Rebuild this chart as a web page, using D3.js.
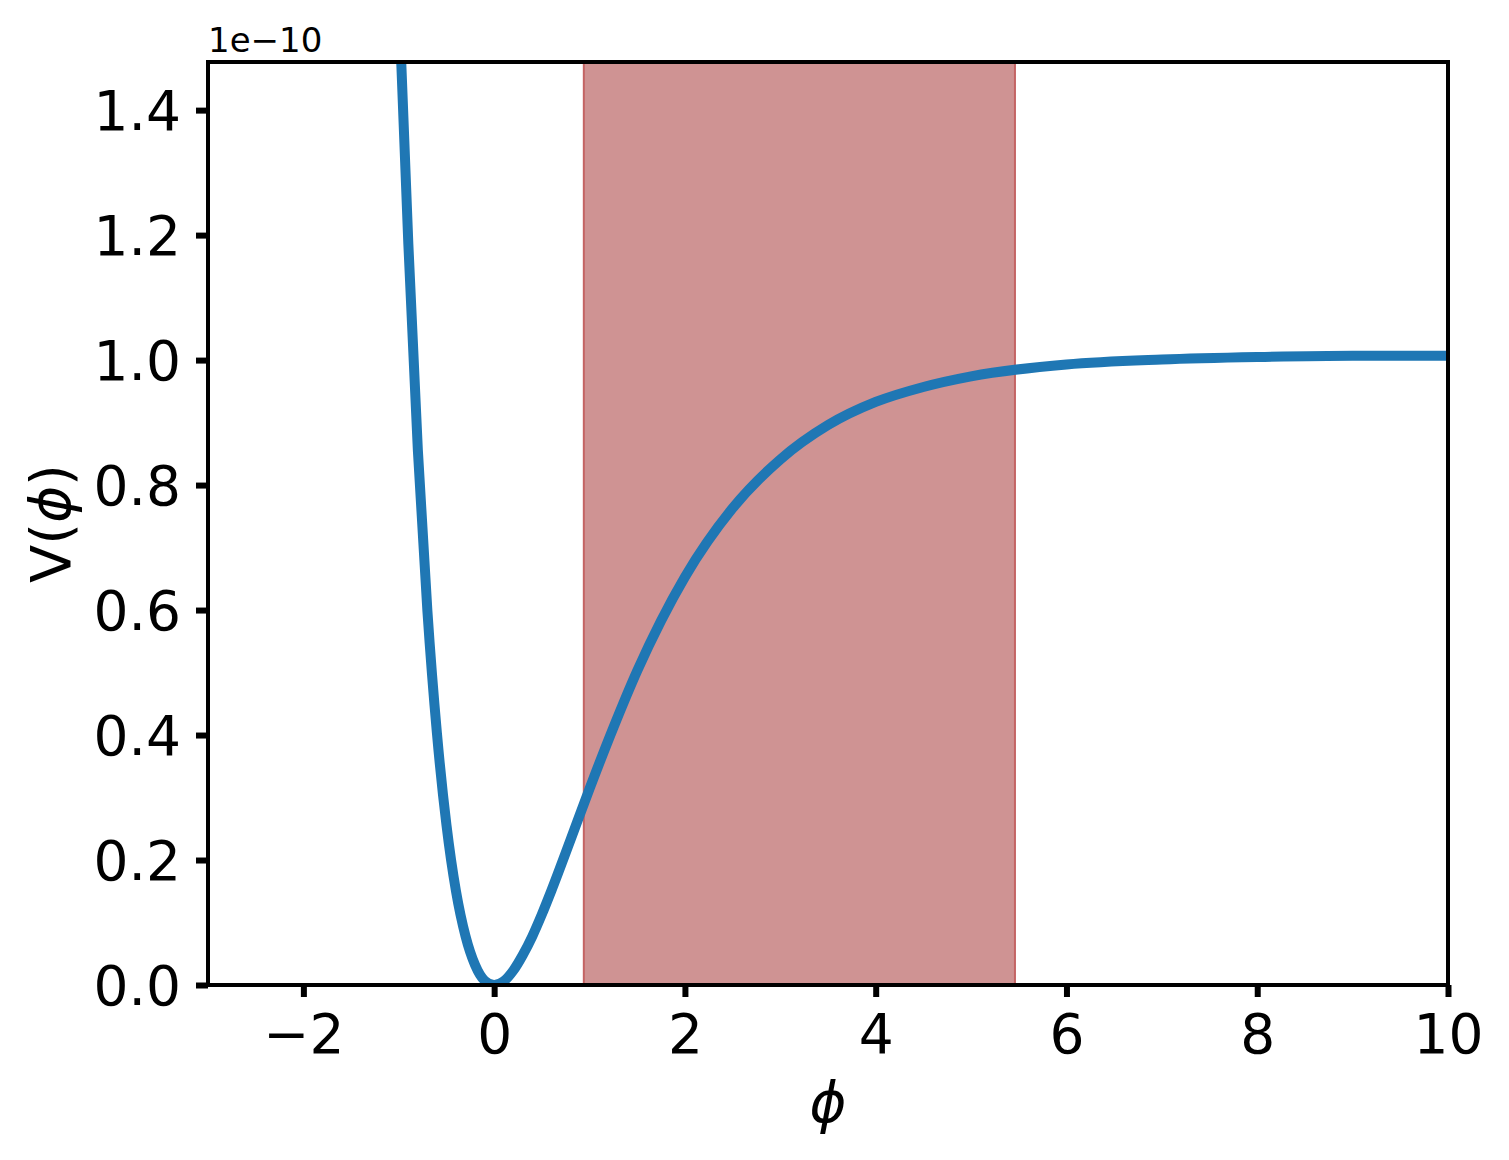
<!DOCTYPE html>
<html>
<head>
<meta charset="utf-8">
<script src="https://cdn.jsdelivr.net/npm/d3@7"></script>
<style>
  html, body { margin: 0; padding: 0; background: #fff; }
  text { font-family: "DejaVu Sans", sans-serif; fill: #000; }
</style>
</head>
<body>
<div id="chart"></div>
<script>
// potential curve, values (V in units of 1e-10)
var phi = [-0.98, -0.9, -0.8, -0.7, -0.6, -0.5, -0.4, -0.3, -0.2, -0.1, 0,
           0.1, 0.2, 0.3, 0.4, 0.5, 0.6, 0.8, 1.0, 1.25, 1.5, 1.75, 2.0,
           2.5, 3.0, 3.5, 4.0, 4.5, 5.0, 6.0, 7.0, 8.0, 9.0, 10.0];
var V   = [1.50, 1.187, 0.856, 0.599, 0.403, 0.256, 0.150, 0.078, 0.032, 0.007, 0,
           0.006, 0.023, 0.048, 0.078, 0.113, 0.151, 0.232, 0.314, 0.412, 0.503, 0.583, 0.653,
           0.763, 0.841, 0.896, 0.933, 0.957, 0.974, 0.993, 1.001, 1.005, 1.007, 1.007];

// shaded band
var band = [0.94, 5.46];

var xTicks = [-2, 0, 2, 4, 6, 8, 10];
var yTicks = [0.0, 0.2, 0.4, 0.6, 0.8, 1.0, 1.2, 1.4];

var W = 1509, H = 1160;
var margin = {top: 62, right: 61, bottom: 175, left: 208};
var width = W - margin.left - margin.right;
var height = H - margin.top - margin.bottom;

var svg = d3.select("#chart").append("svg")
    .attr("width", W)
    .attr("height", H)
    .style("background", "#fff");

var g = svg.append("g")
    .attr("transform", "translate(" + margin.left + "," + margin.top + ")");

var x = d3.scaleLinear().domain([-3, 10]).range([0, width]);
var y = d3.scaleLinear().domain([0, 1.477]).range([height, 0]);

g.append("clipPath").attr("id", "clip")
  .append("rect").attr("width", width).attr("height", height);

// band
g.append("rect")
    .attr("x", x(band[0]))
    .attr("y", 0)
    .attr("width", x(band[1]) - x(band[0]))
    .attr("height", height)
    .attr("fill", "#cf9393")
    .attr("stroke", "#c46464")
    .attr("stroke-width", 2);

// curve
var pts = phi.map(function(p, i) { return [p, V[i]]; });
var line = d3.line()
    .x(function(d) { return x(d[0]); })
    .y(function(d) { return y(d[1]); })
    .curve(d3.curveMonotoneX);

g.append("path")
    .datum(pts)
    .attr("clip-path", "url(#clip)")
    .attr("d", line)
    .attr("fill", "none")
    .attr("stroke", "#1f77b4")
    .attr("stroke-width", 10)
    .attr("stroke-linejoin", "round");

// axes
var xAxis = g.append("g")
    .attr("transform", "translate(0," + height + ")")
    .call(d3.axisBottom(x).tickValues(xTicks).tickFormat(d3.format("d"))
      .tickSize(12).tickPadding(14));
var yAxis = g.append("g")
    .call(d3.axisLeft(y).tickValues(yTicks).tickFormat(d3.format(".1f"))
      .tickSize(12).tickPadding(15));

[xAxis, yAxis].forEach(function(a) {
  a.select(".domain").remove();
  a.selectAll(".tick line").attr("stroke", "#000").attr("stroke-width", 6);
  a.selectAll(".tick text")
    .style("font-family", "DejaVu Sans")
    .style("font-size", "55px")
    .attr("fill", "#000");
});
xAxis.selectAll(".tick text").attr("dy", "0.76em");
yAxis.selectAll(".tick text").attr("dy", "0.36em");

// frame
g.append("rect")
    .attr("width", width)
    .attr("height", height)
    .attr("fill", "none")
    .attr("stroke", "#000")
    .attr("stroke-width", 4);

// offset text
g.append("text")
    .attr("x", 0)
    .attr("y", -10)
    .style("font-size", "34px")
    .text("1e\u221210");

// axis labels
svg.append("text")
    .attr("x", margin.left + width / 2)
    .attr("y", 1122)
    .attr("text-anchor", "middle")
    .style("font-size", "56px")
    .style("font-style", "italic")
    .text("\u03d5");

var yl = svg.append("text")
    .attr("transform", "translate(70," + (margin.top + height / 2) + ") rotate(-90)")
    .attr("text-anchor", "middle")
    .style("font-size", "56px");
yl.append("tspan").text("V(");
yl.append("tspan").style("font-style", "italic").text("\u03d5");
yl.append("tspan").text(")");
</script>
</body>
</html>
